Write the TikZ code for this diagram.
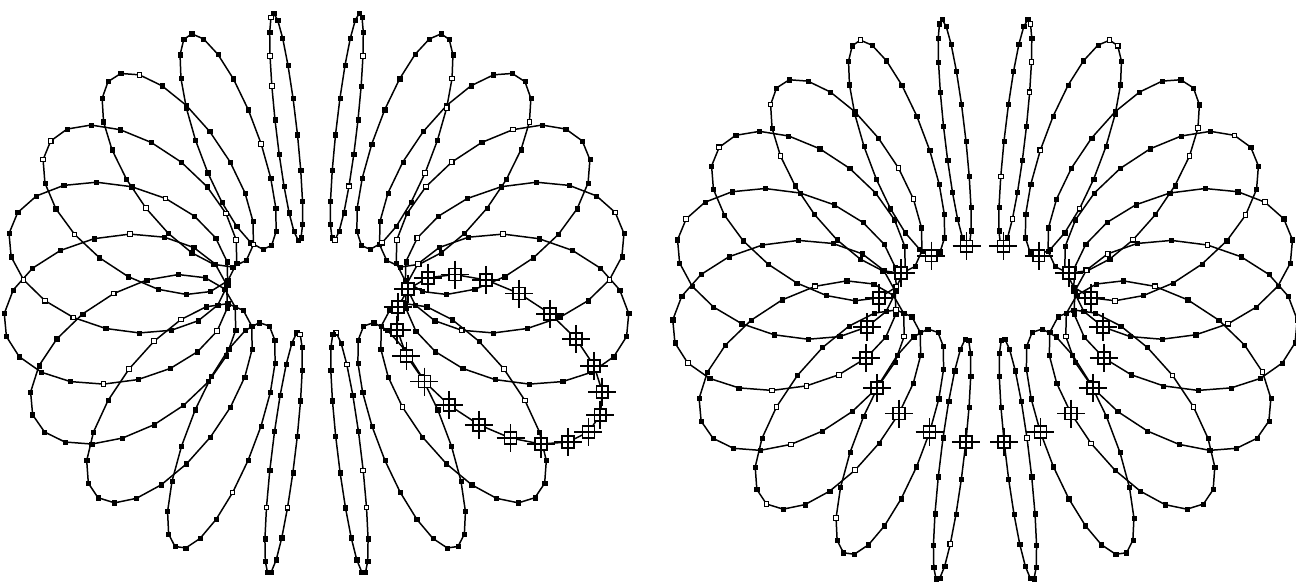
\documentclass[tikz,border=0pt]{standalone}
% torus: major/minor radius, view tilt, camera distance, vertical stretch
\def\Rmaj{201.5}
\def\rmin{112.5}
\def\ca{0.78}
\def\sa{0.626}
\def\Dcam{4000}
\def\ky{1.048}
% point of the torus at angles #1 (around the axis) and #2 (around the tube)
\newcommand{\torpoint}[5]{%
  \pgfmathsetmacro\tq{\Rmaj+\rmin*cos(#2)}%
  \pgfmathsetmacro\tY{\tq*sin(#1)}%
  \pgfmathsetmacro\tZ{\rmin*sin(#2)}%
  \pgfmathsetmacro\ts{\Dcam/(\Dcam+\tY*\sa-\tZ*\ca)}%
  \pgfmathsetmacro\px{#3+\ts*\tq*cos(#1)}%
  \pgfmathsetmacro\py{#4-\ky*\ts*(\tY*\ca+\tZ*\sa)}%
  \coordinate (#5) at (\px,\py);}
\tikzset{
  meridian/.style={line width=0.85pt,line join=round},
  fulldot/.style={rectangle,draw,fill=black,inner sep=0pt,minimum size=2.4pt,line width=0.3pt},
  opendot/.style={rectangle,draw,fill=white,inner sep=0pt,minimum size=2.6pt,line width=0.6pt},
  crossbox/.style={rectangle,draw,fill=white,inner sep=0pt,minimum size=6.8pt,line width=1pt}
}
\begin{document}
\begin{tikzpicture}[x=0.02cm,y=-0.02cm]
\useasboundingbox (0,0) rectangle (1296,583);
% meridians of both tori
\foreach \fig/\cx/\cy in {L/316.5/284.8,R/985/291.1}{
  \foreach \j in {0,...,19}{
    \pgfmathsetmacro\phia{9+18*\j}
    \foreach \i in {0,...,19}{
      \pgfmathsetmacro\thb{9+18*\i}
      \torpoint{\phia}{\thb}{\cx}{\cy}{\fig-\j-\i}
    }
    \draw[meridian] (\fig-\j-0) \foreach \i in {1,...,19}{ -- (\fig-\j-\i)} -- cycle;
  }
}
% sample points, a few of them open
\pgfmathsetseed{4711}
\foreach \fig in {L,R}{
  \foreach \j in {0,...,19}{
    \foreach \i in {0,...,19}{
      \pgfmathtruncatemacro\op{rnd<0.16}
      \ifnum\op=1
        \node[opendot] (d-\fig-\j-\i) at (\fig-\j-\i) {};
      \else
        \node[fulldot] (d-\fig-\j-\i) at (\fig-\j-\i) {};
      \fi
    }
  }
}
% marked meridian (left) and marked parallel (right)
\foreach \j in {0,...,19}{
  \pgfmathsetmacro\phia{9+18*\j}
  \torpoint{\phia}{225}{985}{291.1}{P-\j}
}
\foreach \c in {L-18-0,L-18-1,L-18-2,L-18-3,L-18-4,L-18-5,L-18-6,L-18-7,L-18-8,L-18-9,
                L-18-10,L-18-11,L-18-12,L-18-13,L-18-14,L-18-15,L-18-16,L-18-17,L-18-18,L-18-19,
                P-0,P-1,P-2,P-3,P-4,P-5,P-6,P-7,P-8,P-9,
                P-10,P-11,P-12,P-13,P-14,P-15,P-16,P-17,P-18,P-19}{
  \node[crossbox] (m-\c) at (\c) {};
  \draw[line width=1pt] (\c) +(-14,0) -- +(14,0) (\c) +(0,-14) -- +(0,14);
}
\end{tikzpicture}
\end{document}
